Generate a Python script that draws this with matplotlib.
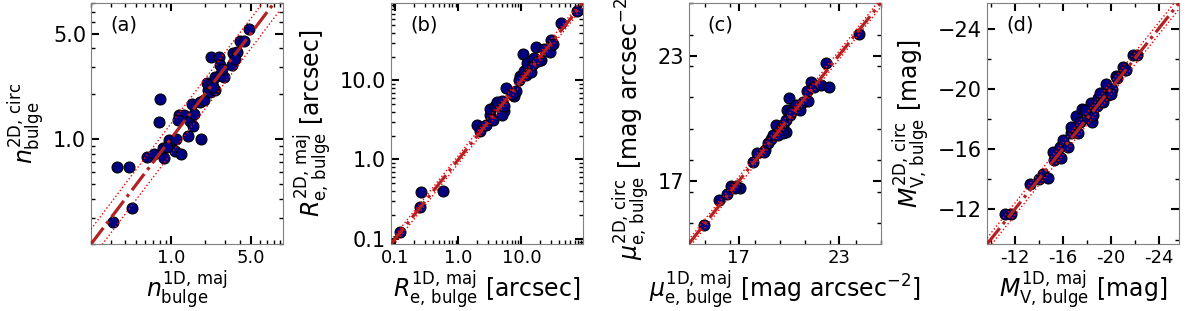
import numpy as np
import matplotlib
matplotlib.use('Agg')
import matplotlib.pyplot as plt
from matplotlib.ticker import MultipleLocator, NullFormatter, FixedLocator, FixedFormatter

# (a) Sersic index
n_1d = [0.31, 0.46, 0.34, 0.43, 0.80, 0.785, 0.62, 0.71, 0.87, 0.85, 0.96, 1.01, 1.08, 1.22,
        1.11, 1.19, 1.30, 1.16, 1.42, 1.84, 1.47, 1.56, 1.59, 1.52, 1.79, 1.94, 2.12, 2.08,
        2.30, 2.22, 2.42, 2.46, 2.72, 2.90, 2.27, 2.63, 2.72, 2.81, 3.44, 3.48, 3.80, 3.68,
        4.07, 4.35, 4.87, 2.35, 0.93]
n_2d = [0.28, 0.35, 0.65, 0.65, 1.85, 1.29, 0.76, 0.79, 0.75, 0.87, 0.99, 0.89, 0.83, 0.80,
        1.00, 1.45, 1.45, 1.33, 1.04, 0.995, 1.31, 1.22, 1.46, 1.71, 1.77, 1.82, 2.11, 2.36,
        2.34, 2.06, 2.11, 2.59, 2.66, 2.59, 3.51, 3.51, 3.09, 2.94, 3.09, 3.73, 3.78, 3.42,
        4.47, 4.47, 5.40, 2.20, 0.89]

# (b) effective radius [arcsec]
re_1d = [0.12, 0.244, 0.253, 0.58, 2.0, 2.21, 2.73, 3.21, 3.5, 3.21, 3.77, 4.1, 4.94, 5.26,
         4.94, 5.73, 7.62, 8.1, 7.16, 9.5, 10.8, 11.1, 12.5, 11.8, 14.2, 15.4, 17.1, 20.6,
         23.2, 28.0, 29.0, 31.6, 43.2, 75.4, 16.0, 5.26, 9.2, 18.5]
re_2d = [0.121, 0.25, 0.385, 0.40, 2.7, 2.27, 2.7, 3.6, 3.18, 4.36, 4.8, 5.3, 5.5, 4.16,
         3.6, 8.1, 6.4, 7.3, 6.76, 11.4, 21.4, 13.2, 16.8, 11.8, 12.6, 15.9, 26.4, 18.0,
         24.7, 22.9, 32.0, 28.5, 53.3, 74.7, 19.0, 4.8, 10.0, 17.5]

# (c) surface brightness [mag arcsec^-2]
mu_1d = [14.92, 15.8, 16.3, 16.56, 16.86, 17.06, 16.76, 17.86, 18.1, 18.6, 18.76, 18.96,
         19.06, 19.22, 19.46, 19.66, 19.82, 19.86, 20.02, 19.92, 20.1, 20.3, 20.66, 20.46,
         20.86, 21.16, 21.1, 21.36, 21.52, 21.96, 22.4, 22.26, 24.2, 18.5, 19.66, 19.36, 20.16]
mu_2d = [14.91, 16.09, 16.37, 16.77, 16.77, 16.69, 16.66, 17.94, 18.33, 18.49, 18.81, 19.04,
         19.2, 19.7, 19.43, 19.67, 19.36, 19.9, 20.97, 20.41, 20.14, 20.54, 20.42, 20.64,
         20.77, 20.85, 21.32, 21.74, 21.48, 21.6, 21.51, 22.62, 24.04, 18.4, 19.3, 19.2, 20.3]

# (d) absolute magnitude [mag]
M_1d = [-11.21, -11.72, -13.31, -14.04, -14.37, -14.79, -15.29, -15.21, -15.85, -15.77,
        -16.05, -16.41, -16.74, -16.69, -17.3, -17.11, -17.58, -17.44, -18.0, -18.22, -18.42,
        -18.5, -18.33, -18.83, -18.98, -19.25, -19.4, -19.12, -19.62, -19.81, -19.4, -20.1,
        -20.0, -20.46, -20.57, -21.07, -21.3, -21.85, -22.18, -17.9]
M_2d = [-11.73, -11.71, -13.72, -14.03, -14.38, -14.09, -15.3, -15.81, -15.45, -16.18,
        -16.62, -16.18, -17.1, -17.46, -17.1, -18.21, -18.65, -17.83, -18.06, -18.39, -17.83,
        -18.27, -19.05, -18.87, -19.38, -19.26, -19.66, -19.75, -20.32, -19.59, -19.15, -19.97,
        -19.66, -20.85, -20.7, -21.46, -21.29, -22.24, -22.24, -18.6]

plt.rcParams['font.family'] = 'DejaVu Sans'
plt.rcParams['mathtext.fontset'] = 'dejavusans'

fig = plt.figure(figsize=(12, 3.11), dpi=100)
lefts = [0.0758, 0.3258, 0.5738, 0.8225]
axs = [fig.add_axes([l, 0.215, 0.16, 0.775]) for l in lefts]

def base(ax, x, y, lims, off, log):
    ax.scatter(x, y, s=62, c='navy', edgecolors='black', linewidths=0.8, zorder=2)
    t = np.linspace(lims[0], lims[1], 200)
    if log:
        t = np.logspace(np.log10(lims[0]), np.log10(lims[1]), 200)
        ax.plot(t, t, color='firebrick', ls='-.', lw=2.3, zorder=3)
        ax.plot(t, t * 10**off, color='red', ls=':', lw=1, zorder=3)
        ax.plot(t, t / 10**off, color='red', ls=':', lw=1, zorder=3)
        ax.set_xscale('log')
        ax.set_yscale('log')
    else:
        ax.plot(t, t, color='firebrick', ls='-.', lw=2.3, zorder=3)
        ax.plot(t, t + off, color='red', ls=':', lw=1, zorder=3)
        ax.plot(t, t - off, color='red', ls=':', lw=1, zorder=3)
    ax.set_xlim(lims)
    ax.set_ylim(lims)
    ax.tick_params(which='both', direction='in', top=True, right=True, color='black')
    ax.tick_params(which='major', length=6, width=1.5)
    ax.tick_params(which='minor', length=3, width=1)
    ax.tick_params(axis='x', labelsize=13)
    ax.tick_params(axis='y', labelsize=15)
    for s in ax.spines.values():
        s.set_color('0.5')

# (a)
ax = axs[0]
base(ax, n_1d, n_2d, (0.2, 9.0), 0.1, True)
ax.set_xlim(0.2, 9.6)
ax.set_ylim(0.2, 8.0)
for a in (ax.xaxis, ax.yaxis):
    a.set_major_locator(FixedLocator([1.0, 5.0]))
    a.set_major_formatter(FixedFormatter(['1.0', '5.0']))
    a.set_minor_formatter(NullFormatter())
ax.set_xlabel(r'$n^{\rm 1D,\,maj}_{\rm bulge}$', fontsize=17, labelpad=1)
ax.set_ylabel(r'$n^{\rm 2D,\,circ}_{\rm bulge}$', fontsize=17)
ax.text(0.1, 0.95, '(a)', transform=ax.transAxes, fontsize=14, va='top')

# (b)
ax = axs[1]
base(ax, re_1d, re_2d, (0.085, 95), 0.05, True)
for a in (ax.xaxis, ax.yaxis):
    a.set_major_locator(FixedLocator([0.1, 1.0, 10.0]))
    a.set_major_formatter(FixedFormatter(['0.1', '1.0', '10.0']))
    a.set_minor_formatter(NullFormatter())
ax.set_xlabel(r'$R^{\rm 1D,\,maj}_{\rm e,\,bulge}$ [arcsec]', fontsize=17, labelpad=1)
ax.set_ylabel(r'$R^{\rm 2D,\,maj}_{\rm e,\,bulge}$ [arcsec]', fontsize=17)
ax.text(0.1, 0.95, '(b)', transform=ax.transAxes, fontsize=14, va='top')

# (c)
ax = axs[2]
base(ax, mu_1d, mu_2d, (14.0, 25.5), 0.2, False)
for a in (ax.xaxis, ax.yaxis):
    a.set_major_locator(FixedLocator([17, 23]))
    a.set_minor_locator(MultipleLocator(1.5))
ax.set_xlabel(r'$\mu^{\rm 1D,\,maj}_{\rm e,\,bulge}$ [mag arcsec$^{-2}$]', fontsize=17, labelpad=1)
ax.set_ylabel(r'$\mu^{\rm 2D,\,circ}_{\rm e,\,bulge}$ [mag arcsec$^{-2}$]', fontsize=17)
ax.text(0.1, 0.95, '(c)', transform=ax.transAxes, fontsize=14, va='top')

# (d)
ax = axs[3]
base(ax, M_1d, M_2d, (-9.7, -25.7), 0.4, False)
ax.xaxis.set_major_locator(FixedLocator([-12, -16, -20, -24]))
ax.xaxis.set_major_formatter(FixedFormatter(['-12', '-16', '-20', '-24']))
ax.yaxis.set_major_locator(FixedLocator([-12, -16, -20, -24]))
for a in (ax.xaxis, ax.yaxis):
    a.set_minor_locator(MultipleLocator(2))
ax.set_xlabel(r'$M^{\rm 1D,\,maj}_{\rm V,\,bulge}$ [mag]', fontsize=17, labelpad=1)
ax.set_ylabel(r'$M^{\rm 2D,\,circ}_{\rm V,\,bulge}$ [mag]', fontsize=17)
ax.text(0.1, 0.95, '(d)', transform=ax.transAxes, fontsize=14, va='top')

fig.savefig('out.png', dpi=100)
